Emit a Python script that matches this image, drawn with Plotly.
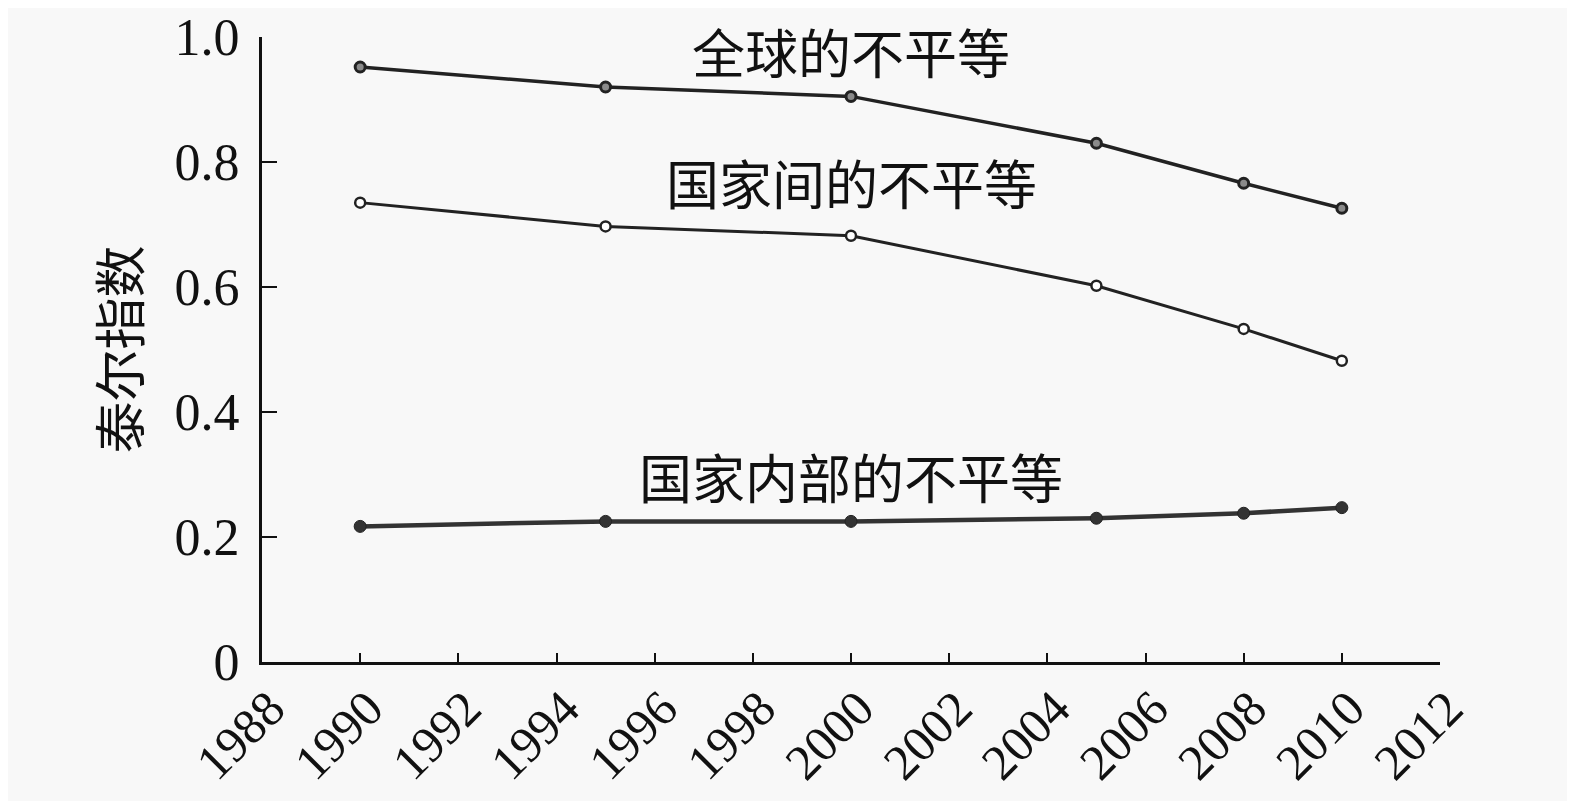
import plotly.graph_objects as go

years = [1990, 1995, 2000, 2005, 2008, 2010]
global_ineq = [0.952, 0.920, 0.905, 0.830, 0.766, 0.726]
between_ineq = [0.735, 0.697, 0.682, 0.602, 0.533, 0.482]
within_ineq = [0.217, 0.225, 0.225, 0.230, 0.238, 0.247]

x_ticks = list(range(1988, 2013, 2))
y_ticks = [0, 0.2, 0.4, 0.6, 0.8, 1.0]
y_ticktext = ["0", "0.2", "0.4", "0.6", "0.8", "1.0"]

labels = ["全球的不平等", "国家间的不平等", "国家内部的不平等"]
label_pos = [(2000.0, 0.978), (2000.0, 0.768), (2000.0, 0.298)]

line_color = "#222222"
bg = "#f8f8f8"
fig = go.Figure()
fig.add_trace(go.Scatter(x=years, y=global_ineq, mode="lines+markers",
                         line=dict(color=line_color, width=3.5),
                         marker=dict(symbol="circle", size=10, color="#8a8a8a",
                                     line=dict(color=line_color, width=3))))
fig.add_trace(go.Scatter(x=years, y=between_ineq, mode="lines+markers",
                         line=dict(color=line_color, width=3),
                         marker=dict(symbol="circle", size=10, color="white",
                                     line=dict(color=line_color, width=2.5))))
fig.add_trace(go.Scatter(x=years, y=within_ineq, mode="lines+markers",
                         line=dict(color="#333333", width=4.5),
                         marker=dict(symbol="circle", size=12, color="#333333",
                                     line=dict(color="#222222", width=1))))

for txt, (lx, ly) in zip(labels, label_pos):
    fig.add_annotation(x=lx, y=ly, text=txt, showarrow=False,
                       font=dict(family="Noto Sans CJK SC", size=53, color="#111"),
                       xanchor="center", yanchor="middle", borderpad=0)

# page body has an 8px margin, so figure is shrunk by 8px and margins shifted
fig.update_layout(
    width=1567, height=793,
    paper_bgcolor=bg, plot_bgcolor=bg,
    showlegend=False,
    margin=dict(l=254, r=135, t=29, b=139, autoexpand=False),
    font=dict(family="Liberation Serif", color="#111"),
)
fig.update_xaxes(range=[1988, 2012], tickvals=x_ticks, tickangle=-45,
                 automargin=False,
                 showgrid=False, zeroline=False, showline=True, linecolor="#111",
                 linewidth=3, ticks="inside", ticklen=9, tickwidth=2, tickcolor="#111",
                 ticklabelstandoff=-6, ticklabelshift=8,
                 tickfont=dict(family="Liberation Serif", size=50, color="#111"))
fig.update_yaxes(range=[0, 1.0], tickvals=y_ticks, ticktext=y_ticktext,
                 automargin=False,
                 showgrid=False, zeroline=False, showline=True, linecolor="#111",
                 linewidth=3, ticks="inside", ticklen=15, tickwidth=2, tickcolor="#111",
                 ticklabelstandoff=9,
                 tickfont=dict(family="Liberation Serif", size=52, color="#111"),
                 title=dict(text="泰尔指数", standoff=18,
                            font=dict(family="Noto Sans CJK SC", size=52, color="#111")))

fig.write_html("out.html")
